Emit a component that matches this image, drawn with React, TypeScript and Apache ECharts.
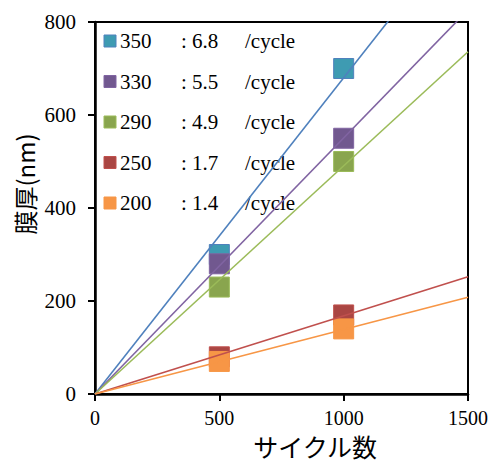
import React, { useEffect, useRef } from "react";
import * as echarts from "echarts";

const cycles = [500, 1000];
const temps = ["350", "330", "290", "250", "200"];
const rates = ["6.8", "5.5", "4.9", "1.7", "1.4"];
const thick350 = [300, 700];
const thick330 = [280, 550];
const thick290 = [230, 500];
const thick250 = [80, 170];
const thick200 = [70, 140];
const trendEnd = [1020, 826, 736, 252, 208];
const xTicks = [0, 500, 1000, 1500];
const yTicks = [0, 200, 400, 600, 800];

const lineColors = ["#4F81BD", "#8064A2", "#9BBB59", "#C0504D", "#F79646"];
const markerFill = ["#3E9BB2", "#71588F", "#89A54E", "#AA4643", "#F79646"];
const markerBorder = ["#4F81BD", "#8064A2", "#9BBB59", "#C0504D", "#F79646"];

const serif = "Liberation Serif, DejaVu Serif, serif";
const cjk = "Noto Sans CJK JP";

export default function App() {
  const ref = useRef<HTMLDivElement>(null);
  useEffect(() => {
    if (!ref.current) return;
    const chart = echarts.init(ref.current, undefined, { renderer: "svg" });
    const values = [thick350, thick330, thick290, thick250, thick200];
    const scatter = values.map((v, i) => ({
      type: "scatter",
      name: temps[i],
      symbol: "rect",
      symbolSize: 20,
      z: 2,
      itemStyle: { color: markerFill[i], borderColor: markerBorder[i], borderWidth: 1, opacity: 1 },
      data: cycles.map((c, j) => [c, v[j]]),
    }));
    const lines = trendEnd.map((e, i) => ({
      type: "line",
      name: temps[i] + "-trend",
      showSymbol: false,
      symbol: "none",
      clip: true,
      z: 3,
      lineStyle: { color: lineColors[i], width: 1.6 },
      data: [
        [0, 0],
        [xTicks[xTicks.length - 1], e],
      ],
    }));
    const legendGraphics: any[] = [];
    temps.forEach((t, i) => {
      const cy = 41 + 40.5 * i;
      legendGraphics.push({
        type: "rect",
        shape: { x: 104, y: cy - 6, width: 12, height: 12 },
        style: { fill: markerFill[i], stroke: markerBorder[i], lineWidth: 1 },
      });
      legendGraphics.push({
        type: "text",
        x: 120,
        y: cy,
        style: { text: t, fontFamily: serif, fontSize: 21, fill: "#000", verticalAlign: "middle" },
      });
      legendGraphics.push({
        type: "text",
        x: 181,
        y: cy,
        style: { text: ": " + rates[i], fontFamily: serif, fontSize: 21, fill: "#000", verticalAlign: "middle" },
      });
      legendGraphics.push({
        type: "text",
        x: 245,
        y: cy,
        style: { text: "/cycle", fontFamily: serif, fontSize: 21, fill: "#000", verticalAlign: "middle" },
      });
    });
    chart.setOption({
      animation: false,
      grid: {
        left: 95,
        right: 25,
        top: 22,
        bottom: 69,
        show: true,
        borderColor: "#000",
        borderWidth: 2,
        containLabel: false,
        outerBoundsMode: "none",
      },
      xAxis: {
        type: "value",
        min: xTicks[0],
        max: xTicks[xTicks.length - 1],
        interval: 500,
        axisLine: { show: true, lineStyle: { color: "#000", width: 2.5 } },
        axisTick: { show: true, inside: false, length: 7, lineStyle: { color: "#000", width: 2 } },
        splitLine: { show: false },
        axisLabel: { color: "#000", fontFamily: serif, fontSize: 20, margin: 14, formatter: (v: number) => String(v) },
      },
      yAxis: {
        type: "value",
        min: yTicks[0],
        max: yTicks[yTicks.length - 1],
        interval: 200,
        axisLine: { show: true, lineStyle: { color: "#000", width: 2.5 } },
        axisTick: { show: true, inside: false, length: 7, lineStyle: { color: "#000", width: 2 } },
        splitLine: { show: false },
        axisLabel: { color: "#000", fontFamily: serif, fontSize: 21, margin: 19, formatter: (v: number) => String(v) },
      },
      series: [...scatter, ...lines],
      graphic: [
        ...legendGraphics,
        {
          type: "text",
          x: 315,
          y: 446,
          style: {
            text: "サイクル数",
            fontFamily: cjk,
            fontSize: 25,
            fill: "#000",
            align: "center",
            verticalAlign: "middle",
          },
        },
        {
          type: "text",
          x: 24,
          y: 184,
          rotation: Math.PI / 2,
          style: {
            text: "膜厚(nm)",
            fontFamily: cjk,
            fontSize: 24,
            fill: "#000",
            align: "center",
            verticalAlign: "middle",
          },
        },
      ],
    });
    return () => chart.dispose();
  }, []);
  return <div ref={ref} style={{ width: 493, height: 463, position: "absolute", left: 0, top: 0 }} />;
}
